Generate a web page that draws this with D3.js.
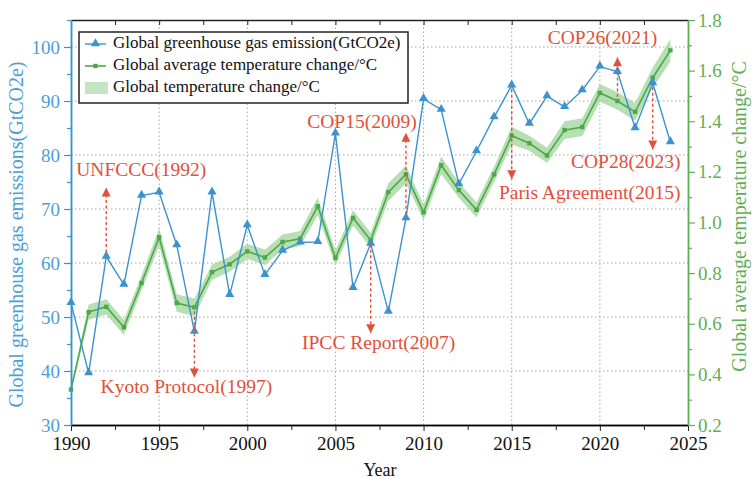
<!DOCTYPE html>
<html lang="en">
    <head>
        <meta charset="utf-8">
        <title>Emissions and temperature</title>
        <script type="text/javascript" src="https://d3js.org/d3.v7.min.js"></script>
        <style type="text/css">
            body {
                margin: 0;
                background-color: white;
            }
            text {
                font-family: "Liberation Serif", "DejaVu Serif", serif;
            }
            .grid line {
                stroke: #a8a8a8;
                stroke-dasharray: 1.5,2.5;
                stroke-width: 1;
            }
        </style>
    </head>
    <body>
        <svg width="753" height="479" id="chart"></svg>

        <script type="text/javascript">

            // data
            const years = [1990, 1991, 1992, 1993, 1994, 1995, 1996, 1997, 1998, 1999,
                           2000, 2001, 2002, 2003, 2004, 2005, 2006, 2007, 2008, 2009,
                           2010, 2011, 2012, 2013, 2014, 2015, 2016, 2017, 2018, 2019,
                           2020, 2021, 2022, 2023, 2024];

            // global greenhouse gas emission (GtCO2e)
            const emissions = [52.6, 39.6, 61.2, 56.0, 72.5, 73.1, 63.3, 47.3, 73.1, 54.1,
                               67.0, 57.8, 62.3, 63.8, 63.9, 84.0, 55.4, 63.6, 51.0, 68.3,
                               90.4, 88.4, 74.6, 80.7, 87.0, 92.9, 85.8, 90.9, 88.9, 92.0,
                               96.4, 95.4, 85.0, 93.3, 82.4];

            // global average temperature change (°C)
            const tempChange = [0.34, 0.646, 0.667, 0.586, 0.761, 0.942, 0.682, 0.665, 0.804, 0.835,
                                0.886, 0.862, 0.923, 0.936, 1.064, 0.86, 1.018, 0.93, 1.12, 1.19,
                                1.04, 1.226, 1.128, 1.05, 1.19, 1.343, 1.313, 1.265, 1.365, 1.377,
                                1.512, 1.48, 1.437, 1.572, 1.68];

            // half width of the shaded temperature band (°C)
            const tempBand = [0.01, 0.03, 0.03, 0.03, 0.03, 0.035, 0.035, 0.035, 0.03, 0.03,
                              0.03, 0.03, 0.03, 0.03, 0.035, 0.03, 0.03, 0.03, 0.035, 0.035,
                              0.03, 0.035, 0.03, 0.03, 0.03, 0.035, 0.03, 0.03, 0.035, 0.035,
                              0.035, 0.035, 0.035, 0.04, 0.045];

            // events: year, label, which series the arrow starts on, arrow end (emission units)
            const eventYears  = [1992, 1997, 2007, 2009, 2015, 2021, 2023];
            const eventLabels = ["UNFCCC(1992)", "Kyoto Protocol(1997)", "IPCC Report(2007)",
                                 "COP15(2009)", "Paris Agreement(2015)", "COP26(2021)", "COP28(2023)"];
            const eventFrom   = ["emission", "temp", "temp", "emission", "emission", "temp", "emission"];
            const eventTo     = [74.0, 38.8, 47.0, 84.1, 75.5, 98.1, 81.0];

            const legendLabels = ["Global greenhouse gas emission(GtCO2e)",
                                  "Global average temperature change/°C",
                                  "Global temperature change/°C"];

            const xTicks = [1990, 1995, 2000, 2005, 2010, 2015, 2020, 2025];
            const leftTicks = [30, 40, 50, 60, 70, 80, 90, 100];
            const rightTicks = [0.2, 0.4, 0.6, 0.8, 1.0, 1.2, 1.4, 1.6, 1.8];

            const dataset = years.map((y, i) => ({
                year: y,
                emission: emissions[i],
                temp: tempChange[i],
                lo: tempChange[i] - tempBand[i],
                hi: tempChange[i] + tempBand[i]
            }));

            const svg = d3.select("#chart");
            const margin = {left: 71, right: 65, top: 20, bottom: 54};
            const w = 753, h = 479;

            const blue = "#3a93cf";
            const blueText = "#4a9fd6";
            const green = "#4ea84a";
            const greenText = "#5fae58";
            const red = "#e0503a";

            const xScale = d3.scaleLinear()
                            .domain([1990, 2025])
                            .range([margin.left, w - margin.right]);
            const yLeft = d3.scaleLinear()
                            .domain([30, 105])
                            .range([h - margin.bottom, margin.top]);
            const yRight = d3.scaleLinear()
                            .domain([0.2, 1.8])
                            .range([h - margin.bottom, margin.top]);

            const x0 = margin.left, x1 = w - margin.right;
            const y0 = h - margin.bottom, y1 = margin.top;

            // grid lines
            svg.append("g")
                .attr("class", "grid")
                .selectAll("line.v")
                .data(xTicks.slice(1, -1))
                .enter()
                .append("line")
                .attr("x1", d => xScale(d)).attr("x2", d => xScale(d))
                .attr("y1", y0).attr("y2", y1);

            svg.append("g")
                .attr("class", "grid")
                .selectAll("line.h")
                .data(leftTicks.slice(1))
                .enter()
                .append("line")
                .attr("x1", x0).attr("x2", x1)
                .attr("y1", d => yLeft(d)).attr("y2", d => yLeft(d));

            // temperature band
            const band = d3.area()
                        .x(d => xScale(d.year))
                        .y0(d => yRight(d.lo))
                        .y1(d => yRight(d.hi));

            svg.append("path")
                .datum(dataset)
                .attr("d", band)
                .style("fill", "#9fd49a")
                .style("opacity", 0.75);

            // temperature line
            const tempLine = d3.line()
                        .x(d => xScale(d.year))
                        .y(d => yRight(d.temp));

            svg.append("path")
                .datum(dataset)
                .attr("d", tempLine)
                .style("fill", "none")
                .style("stroke", green)
                .style("stroke-width", 1.6);

            svg.selectAll("rect.tp")
                .data(dataset)
                .enter()
                .append("rect")
                .attr("class", "tp")
                .attr("x", d => xScale(d.year) - 2.2)
                .attr("y", d => yRight(d.temp) - 2.2)
                .attr("width", 4.4)
                .attr("height", 4.4)
                .style("fill", green);

            // emission line
            const emLine = d3.line()
                        .x(d => xScale(d.year))
                        .y(d => yLeft(d.emission));

            svg.append("path")
                .datum(dataset)
                .attr("d", emLine)
                .style("fill", "none")
                .style("stroke", blue)
                .style("stroke-width", 1.4);

            const tri = d3.symbol().type(d3.symbolTriangle).size(36);
            svg.selectAll("path.em")
                .data(dataset)
                .enter()
                .append("path")
                .attr("class", "em")
                .attr("d", tri)
                .attr("transform", d => `translate(${xScale(d.year)},${yLeft(d.emission) - 0.5})`)
                .style("fill", blue);

            // axes
            const bottomAxis = d3.axisBottom(xScale).tickValues(xTicks).tickFormat(d3.format("d")).tickSize(6).tickSizeOuter(0);
            const bottomMinor = d3.axisBottom(xScale).tickValues(d3.range(1992.5, 2025, 5)).tickFormat("").tickSize(5).tickSizeOuter(0);
            const topAxis = d3.axisBottom(xScale).tickValues(d3.range(1992.5, 2025, 2.5)).tickFormat("").tickSize(5).tickSizeOuter(0);

            const gx = svg.append("g").attr("transform", `translate(0,${y0})`).call(bottomAxis);
            svg.append("g").attr("transform", `translate(0,${y0})`).call(bottomMinor)
                .selectAll("line").style("stroke", "#222");
            const gt = svg.append("g").attr("transform", `translate(0,${y1})`).call(topAxis);
            gt.selectAll("line").style("stroke", "#222");
            gt.select(".domain").style("stroke", "#222").style("stroke-width", 1.3);
            gx.selectAll("text")
                .attr("dy", "0.85em")
                .style("font-family", "Liberation Serif")
                .style("font-size", "19px")
                .style("fill", "#111");
            svg.selectAll("g .domain").style("stroke-width", 1.3);

            const leftAxis = d3.axisLeft(yLeft).tickValues(leftTicks).tickSize(7).tickPadding(4).tickSizeOuter(0);
            const leftMinor = d3.axisLeft(yLeft).tickValues([35, 45, 55, 65, 75, 85, 95, 105]).tickFormat("").tickSize(4).tickSizeOuter(0);
            const gl = svg.append("g").attr("transform", `translate(${x0},0)`).call(leftAxis);
            const glm = svg.append("g").attr("transform", `translate(${x0},0)`).call(leftMinor);
            [gl, glm].forEach(g => {
                g.select(".domain").style("stroke", blue).style("stroke-width", 1.5);
                g.selectAll("line").style("stroke", blue).style("stroke-width", 1.2);
            });
            gl.selectAll("text")
                .style("font-family", "Liberation Serif")
                .style("font-size", "19px")
                .style("fill", blueText);

            const rightAxis = d3.axisRight(yRight).tickValues(rightTicks).tickFormat(d3.format(".1f")).tickSize(7).tickPadding(3).tickSizeOuter(0);
            const rightMinor = d3.axisRight(yRight).tickValues([0.3, 0.5, 0.7, 0.9, 1.1, 1.3, 1.5, 1.7]).tickFormat("").tickSize(4).tickSizeOuter(0);
            const gr = svg.append("g").attr("transform", `translate(${x1},0)`).call(rightAxis);
            const grm = svg.append("g").attr("transform", `translate(${x1},0)`).call(rightMinor);
            [gr, grm].forEach(g => {
                g.select(".domain").style("stroke", greenText).style("stroke-width", 1.5);
                g.selectAll("line").style("stroke", greenText).style("stroke-width", 1.2);
            });
            gr.selectAll("text")
                .style("font-family", "Liberation Serif")
                .style("font-size", "19px")
                .style("fill", greenText);

            gx.select(".domain").style("stroke", "#222");
            gx.selectAll("line").style("stroke", "#222");

            // axis titles
            svg.append("text")
                .attr("transform", `translate(23,${(y0 + y1) / 2 + 12}) rotate(-90)`)
                .attr("text-anchor", "middle")
                .style("font-size", "20px")
                .style("fill", blueText)
                .text("Global greenhouse gas emissions(GtCO2e)");

            svg.append("text")
                .attr("transform", `translate(746,${(y0 + y1) / 2 - 6}) rotate(-90)`)
                .attr("text-anchor", "middle")
                .style("font-size", "20px")
                .style("fill", greenText)
                .text("Global average temperature change/°C");

            svg.append("text")
                .attr("x", 380)
                .attr("y", 476)
                .attr("text-anchor", "middle")
                .style("font-size", "18px")
                .style("fill", "#111")
                .text("Year");

            // event arrows
            svg.append("defs").append("marker")
                .attr("id", "head")
                .attr("viewBox", "0 0 10 10")
                .attr("refX", 10).attr("refY", 5)
                .attr("markerWidth", 10).attr("markerHeight", 9)
                .attr("markerUnits", "userSpaceOnUse")
                .attr("orient", "auto")
                .append("path")
                .attr("d", "M0,0 L10,5 L0,10 Z")
                .style("fill", red);

            const events = eventYears.map((y, i) => {
                const d = dataset.find(e => e.year === y);
                const startY = eventFrom[i] === "temp" ? yRight(d.temp) : yLeft(d.emission);
                return {year: y, label: eventLabels[i], y1: startY, y2: yLeft(eventTo[i])};
            });

            svg.selectAll("line.ev")
                .data(events)
                .enter()
                .append("line")
                .attr("x1", d => xScale(d.year)).attr("x2", d => xScale(d.year))
                .attr("y1", d => d.y1 + (d.y2 > d.y1 ? 4 : -4))
                .attr("y2", d => d.y2)
                .style("stroke", red)
                .style("stroke-width", 1.4)
                .style("stroke-dasharray", "3,2.5")
                .attr("marker-end", "url(#head)");

            // label offsets from the arrow tip, in px
            const labelDx = [35, -8, 8, -44, 78, -15, -27];
            const labelDy = [-16, 11, 11, -9, 15, -18, 14];

            svg.selectAll("text.ev")
                .data(events)
                .enter()
                .append("text")
                .attr("x", (d, i) => xScale(d.year) + labelDx[i])
                .attr("y", (d, i) => d.y2 + labelDy[i])
                .attr("text-anchor", "middle")
                .attr("dominant-baseline", "middle")
                .style("font-size", "19.5px")
                .style("fill", red)
                .text(d => d.label);

            // legend
            const lg = svg.append("g").attr("transform", "translate(79,32)");
            lg.append("rect")
                .attr("width", 329).attr("height", 71)
                .style("fill", "white")
                .style("stroke", "#222")
                .style("stroke-width", 1.5);

            lg.selectAll("text")
                .data(legendLabels)
                .enter()
                .append("text")
                .attr("x", 34)
                .attr("y", (d, i) => 12 + i * 22)
                .attr("dominant-baseline", "middle")
                .style("font-size", "17px")
                .style("fill", "#111")
                .text(d => d);

            lg.append("line").attr("x1", 6).attr("x2", 27).attr("y1", 12).attr("y2", 12)
                .style("stroke", blue).style("stroke-width", 1.4);
            lg.append("path").attr("d", tri).attr("transform", "translate(16.5,11.5)").style("fill", blue);
            lg.append("line").attr("x1", 6).attr("x2", 27).attr("y1", 34).attr("y2", 34)
                .style("stroke", green).style("stroke-width", 1.6);
            lg.append("rect").attr("x", 14.3).attr("y", 31.8).attr("width", 4.4).attr("height", 4.4).style("fill", green);
            lg.append("rect").attr("x", 6).attr("y", 50).attr("width", 23).attr("height", 12)
                .style("fill", "#9fd49a").style("opacity", 0.6);

        </script>
    </body>
</html>
